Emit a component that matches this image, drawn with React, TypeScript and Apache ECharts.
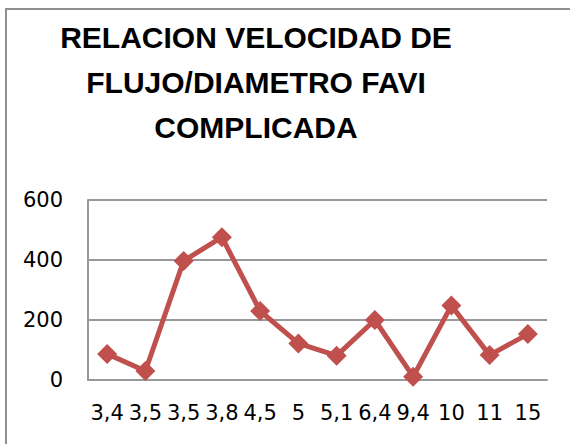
import React, { useEffect, useRef } from "react";
import * as echarts from "echarts";

const titleLines = ["RELACION VELOCIDAD DE", "FLUJO/DIAMETRO FAVI", "COMPLICADA"];
const categories = ["3,4", "3,5", "3,5", "3,8", "4,5", "5", "5,1", "6,4", "9,4", "10", "11", "15"];
const velocidad = [87, 30, 397, 476, 230, 122, 81, 200, 11, 248, 83, 153];
const yMin = 0;
const yMax = 600;
const yInterval = 200;

export default function App() {
  const ref = useRef<HTMLDivElement>(null);
  useEffect(() => {
    if (!ref.current) return;
    const chart = echarts.init(ref.current, null, { renderer: "svg" });
    chart.setOption({
      animation: false,
      backgroundColor: "#ffffff",
      title: {
        text: titleLines.join("\n"),
        left: 256,
        top: 15,
        textAlign: "center",
        padding: 0,
        textStyle: {
          fontFamily: "Liberation Sans",
          fontWeight: "bold",
          fontSize: 30,
          lineHeight: 45,
          color: "#000000",
        },
      },
      graphic: [
        {
          type: "line",
          shape: { x1: 6, y1: 9, x2: 570, y2: 9 },
          style: { stroke: "#8f8f8f", lineWidth: 2 },
          silent: true,
        },
        {
          type: "line",
          shape: { x1: 6, y1: 8, x2: 6, y2: 444 },
          style: { stroke: "#8f8f8f", lineWidth: 2 },
          silent: true,
        },
      ],
      grid: { left: 88, right: 23, top: 200, bottom: 64, containLabel: false },
      xAxis: {
        type: "category",
        data: categories,
        boundaryGap: true,
        axisTick: { show: false },
        axisLine: { show: true, lineStyle: { color: "#999999", width: 2 } },
        axisLabel: {
          interval: 0,
          margin: 22,
          color: "#000000",
          fontFamily: "DejaVu Sans",
          fontSize: 21,
        },
      },
      yAxis: {
        type: "value",
        min: yMin,
        max: yMax,
        interval: yInterval,
        axisTick: { show: false },
        axisLine: { show: true, lineStyle: { color: "#999999", width: 2 } },
        splitLine: { show: true, lineStyle: { color: "#999999", width: 2 } },
        axisLabel: {
          margin: 25,
          color: "#000000",
          fontFamily: "DejaVu Sans",
          fontSize: 21,
        },
      },
      series: [
        {
          type: "line",
          data: velocidad,
          symbol: "diamond",
          symbolSize: 20,
          lineStyle: { color: "#C0504D", width: 5 },
          itemStyle: { color: "#C0504D" },
        },
      ],
    });
    return () => chart.dispose();
  }, []);
  return (
    <div
      ref={ref}
      style={{ position: "absolute", left: 0, top: 0, width: 570, height: 444 }}
    />
  );
}
